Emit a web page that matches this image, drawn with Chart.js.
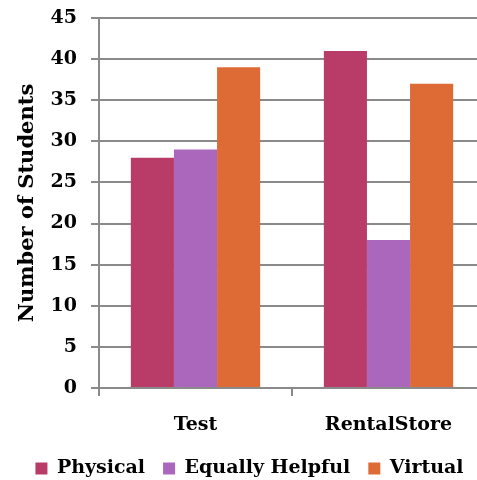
<!DOCTYPE html>
<html>
<head>
<meta charset="utf-8">
<script src="https://cdn.jsdelivr.net/npm/chart.js@4"></script>
<style>
html,body{margin:0;padding:0;background:#fff;overflow:hidden;}
#wrap{width:477px;height:480px;overflow:hidden;position:relative;}
canvas{display:block;}
</style>
</head>
<body>
<div id="wrap"><canvas id="c" width="490" height="480"></canvas></div>
<script>
const categories = ['Test', 'RentalStore'];
const seriesNames = ['Physical', 'Equally Helpful', 'Virtual'];
const physical = [28, 41];
const equallyHelpful = [29, 18];
const virtual = [39, 37];
const yMin = 0, yMax = 45, yStep = 5;
const colors = ['#B93C68', '#AA67BC', '#DE6B36'];

const FONT = 'DejaVu Serif';
const gray = '#8A8A8A';

new Chart(document.getElementById('c'), {
  type: 'bar',
  data: {
    labels: categories,
    datasets: [
      { label: seriesNames[0], data: physical, backgroundColor: colors[0], borderWidth: 0 },
      { label: seriesNames[1], data: equallyHelpful, backgroundColor: colors[1], borderWidth: 0 },
      { label: seriesNames[2], data: virtual, backgroundColor: colors[2], borderWidth: 0 }
    ]
  },
  options: {
    responsive: false,
    animation: false,
    devicePixelRatio: 1,
    layout: { padding: { top: 18, right: 5, left: 14, bottom: -8 } },
    datasets: { bar: { barPercentage: 1.0, categoryPercentage: 0.67 } },
    plugins: {
      legend: {
        position: 'bottom',
        labels: {
          color: '#000',
          font: { family: FONT, size: 19, weight: 'bold' },
          boxWidth: 12, boxHeight: 12, padding: 18
        }
      },
      tooltip: { enabled: false }
    },
    scales: {
      x: {
        grid: { drawOnChartArea: false, color: gray, lineWidth: 2, tickLength: 8, offset: true },
        border: { color: gray, width: 2 },
        ticks: { color: '#000', font: { family: FONT, size: 19, weight: 'bold' }, padding: 18 },
        afterFit: s => { s.height = 53; s.paddingLeft = 0; s.paddingRight = 0; }
      },
      y: {
        min: yMin, max: yMax,
        ticks: { stepSize: yStep, color: '#000', font: { family: FONT, size: 19, weight: 'bold' }, padding: 14 },
        grid: { color: gray, lineWidth: 2, tickLength: 8 },
        border: { color: gray, width: 2 },
        title: { display: true, text: 'Number of Students', color: '#000', font: { family: FONT, size: 21, weight: 'bold' }, padding: { top: 1, bottom: 0 } },
        afterFit: s => { s.width = 85; s.paddingTop = 0; s.paddingBottom = 0; }
      }
    }
  }
});
</script>
</body>
</html>
